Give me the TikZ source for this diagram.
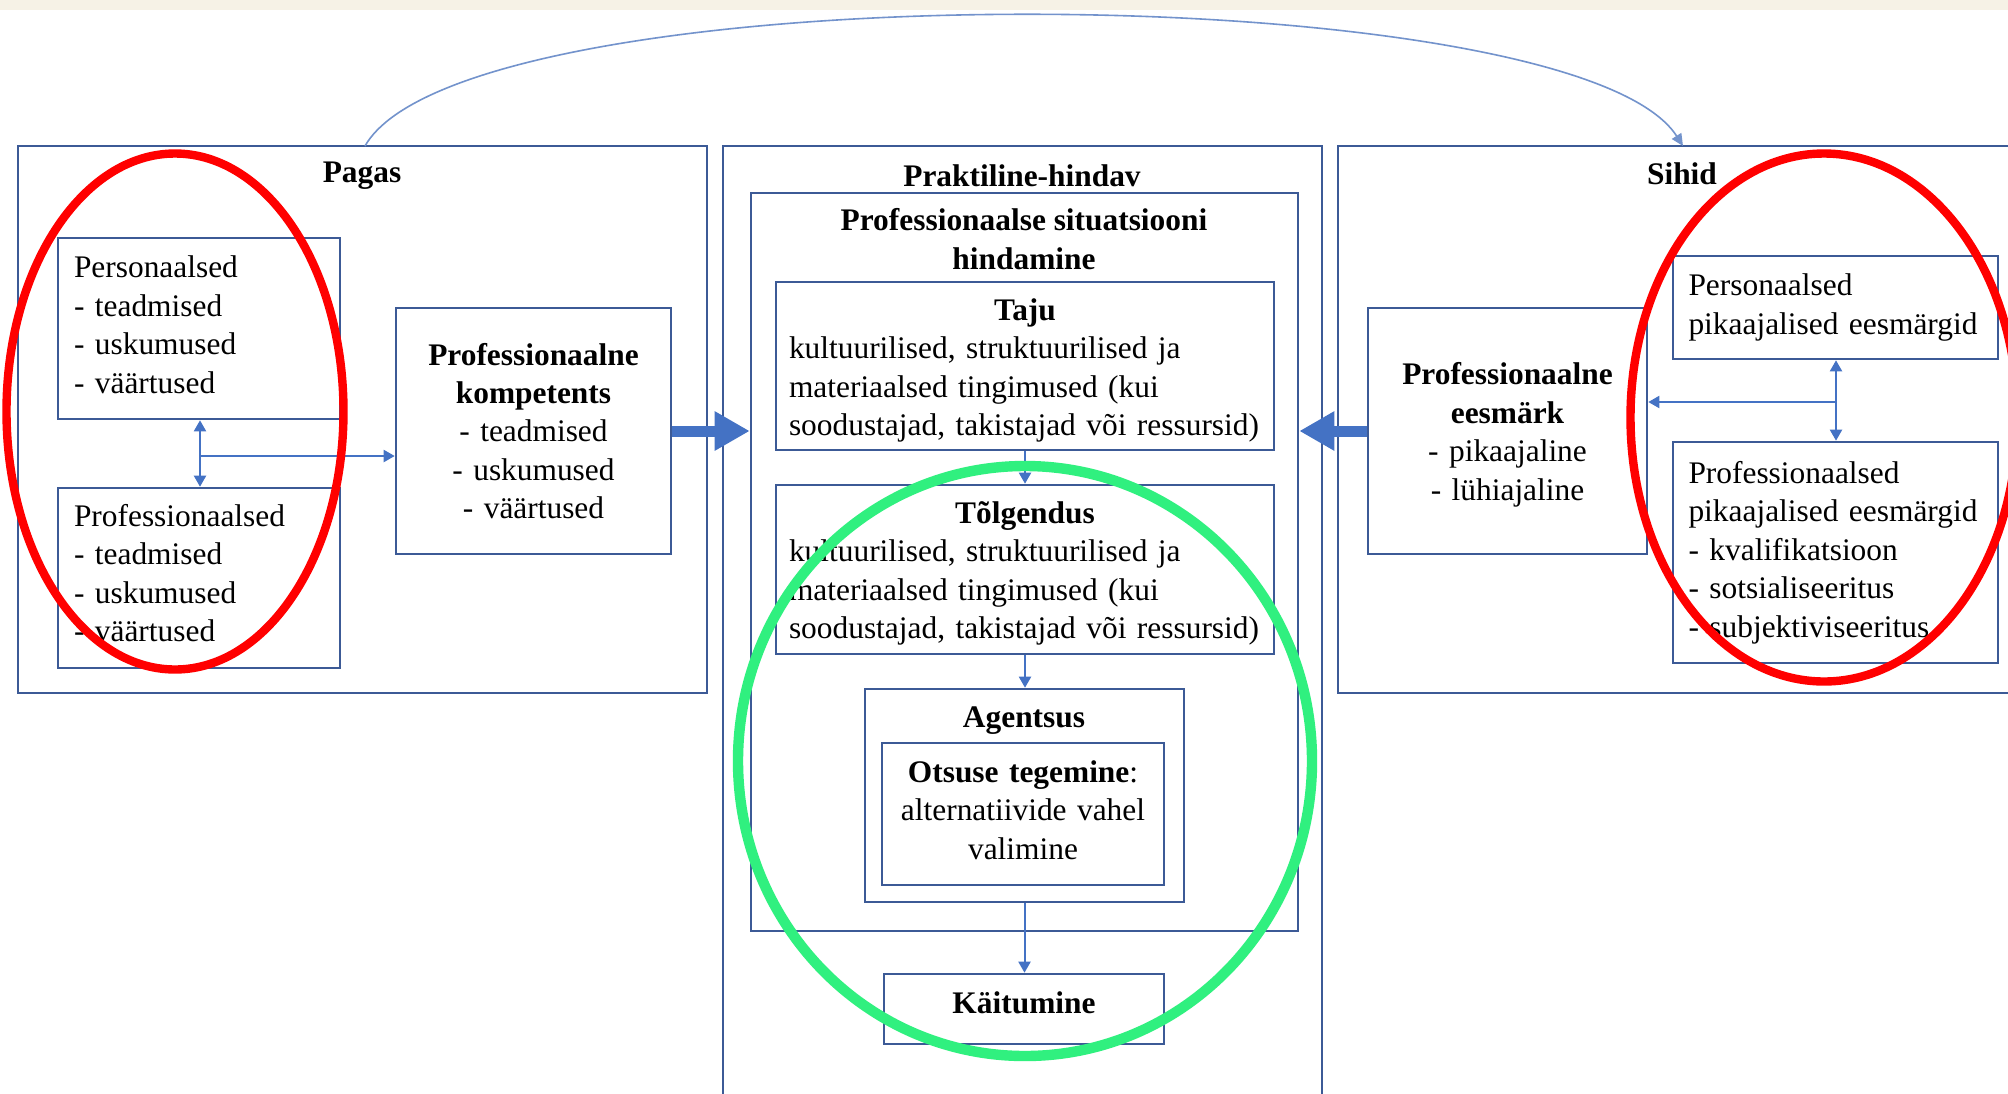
\documentclass[tikz,border=0pt]{standalone}
\usepackage{fontspec}
\setmainfont{Liberation Serif}
\usetikzlibrary{arrows.meta}
\definecolor{boxblue}{HTML}{3C5A96}
\definecolor{arrblue}{HTML}{4472C4}
\definecolor{arcblue}{HTML}{7393CC}
\definecolor{redc}{HTML}{FF0000}
\definecolor{greenc}{HTML}{30F07F}
\definecolor{stripc}{HTML}{F6F2E6}
\newcommand{\dn}[1]{\rule[-#1]{0pt}{0pt}}
\newcommand{\upr}[1]{\rule{0pt}{#1}}
\begin{document}
\begin{tikzpicture}[x=0.5pt,y=-0.5pt,
  box/.style={draw=boxblue, line width=1.3pt, inner sep=0pt, anchor=center, font=\fontsize{15.7}{19.2}\selectfont},
  lbox/.style={box, align=left, text width=#1},
  cbox/.style={box, align=center, text width=#1},
  ttl/.style={inner sep=0pt, font=\fontsize{15.7}{19.2}\selectfont\bfseries, align=center},
  conn/.style={draw=arrblue, line width=1pt, -{Triangle[width=6pt,length=5.5pt]}},
  conntwo/.style={draw=arrblue, line width=1pt, {Triangle[width=6pt,length=5.5pt]}-{Triangle[width=6pt,length=5.5pt]}},
  bigarr/.style={draw=arrblue, line width=5.5pt, -{Triangle[width=18.5pt,length=17.5pt]}},
  arcline/.style={draw=arcblue, line width=0.8pt, -{Triangle[width=5.5pt,length=6pt]}},
  redell/.style={draw=redc, line width=4.2pt},
  greenell/.style={draw=greenc, line width=5.2pt}]
\useasboundingbox (0,0) rectangle (2008,1093);
\clip (0,0) rectangle (2008,1093);
\fill[white] (0,0) rectangle (2008,1093);
\fill[stripc] (0,0) rectangle (2008,10);

% ---------- Pagas ----------
\node[box, minimum width=344.5pt, minimum height=273.5pt] (pagas) at (362.5,419.5) {};
\node[ttl] (pagasT) at (362,176) {Pagas};
\node[lbox=125pt, minimum width=141pt, minimum height=90.5pt] (pers) at (199,328.5) {Personaalsed\\- teadmised\\- uskumused\\- väärtused\dn{4pt}};
\node[lbox=125pt, minimum width=141pt, minimum height=90pt] (profL) at (199,578) {Professionaalsed\\- teadmised\\- uskumused\\- väärtused\dn{5pt}};
\node[cbox=130pt, minimum width=137.5pt, minimum height=123pt] (komp) at (533.5,431) {\textbf{Professionaalne}\\\textbf{kompetents}\\- teadmised\\- uskumused\\- väärtused};

% ---------- Praktiline-hindav ----------
\node[box, minimum width=299.5pt, minimum height=487pt] (prak) at (1022.5,633) {};
\node[ttl] (prakT) at (1022,176) {Praktiline-hindav};
\node[box, minimum width=273.5pt, minimum height=369pt] (inner) at (1024.5,562) {};
\node[ttl] (innerT) at (1024,239) {Professionaalse situatsiooni\\hindamine};
\node[box, text width=236pt, minimum width=249pt, minimum height=84pt] (taju) at (1025,366) {{\centering\upr{15.5pt}\textbf{Taju}\par}kultuurilised, struktuurilised ja\\materiaalsed tingimused (kui\\soodustajad, takistajad või ressursid)};
\node[box, text width=236pt, minimum width=249pt, minimum height=84.5pt] (tolg) at (1025,569.5) {{\centering\upr{15pt}\textbf{Tõlgendus}\par}kultuurilised, struktuurilised ja\\materiaalsed tingimused (kui\\soodustajad, takistajad või ressursid)};
\node[box, minimum width=159.5pt, minimum height=106.5pt] (agent) at (1024.5,795.5) {};
\node[ttl] (agentT) at (1024,721) {Agentsus};
\node[cbox=132pt, minimum width=141pt, minimum height=71pt] (otsus) at (1023,814) {\textbf{Otsuse tegemine}:\\alternatiivide vahel\\valimine\dn{4pt}};
\node[box, align=center, text depth=6pt, minimum width=140pt, minimum height=35pt] (kait) at (1024,1009) {\textbf{Käitumine}};

% ---------- Sihid ----------
\node[box, minimum width=351pt, minimum height=273.5pt] (sihid) at (1689,419.5) {};
\node[ttl] (sihidT) at (1682,174) {Sihid};
\node[cbox=130pt, minimum width=139.5pt, minimum height=123pt] (eesm) at (1507.5,431) {\upr{14.8pt}\textbf{Professionaalne}\\\textbf{eesmärk}\\- pikaajaline\\- lühiajaline};
\node[lbox=147pt, minimum width=162.5pt, minimum height=51.5pt] (ppers) at (1835.5,307.5) {Personaalsed\\pikaajalised eesmärgid};
\node[lbox=147pt, minimum width=162.5pt, minimum height=110.5pt] (pprof) at (1835.5,552.5) {Professionaalsed\\pikaajalised eesmärgid\\- kvalifikatsioon\\- sotsialiseeritus\\- subjektiviseeritus};

% ---------- connectors ----------
\coordinate (jL) at (200,456);
\draw[conntwo] (jL |- pers.south) -- (jL |- profL.north);
\draw[conn] (jL) -- (jL -| komp.west);
\coordinate (jR) at (1836,402);
\draw[conntwo] (jR |- ppers.south) -- (jR |- pprof.north);
\draw[conn] (jR) -- (jR -| eesm.east);

\draw[bigarr] (komp.east) -- (komp.east -| inner.west);
\draw[bigarr] (eesm.west) -- (eesm.west -| inner.east);

\draw[conn] (taju.south) -- (taju.south |- tolg.north);
\draw[conn] (tolg.south) -- (tolg.south |- agent.north);
\draw[conn] (agent.south) -- (agent.south |- kait.north);

\coordinate (arcS) at (365,146);
\coordinate (arcE) at (1683,146);
\draw[arcline] (arcS) .. controls +(100,-176) and +(-110,-172) .. (arcE);

% ---------- highlight ellipses ----------
\draw[redell] (175,411.5) ellipse [x radius=84.25pt, y radius=129pt];
\draw[redell] (1824,417.5) ellipse [x radius=96.75pt, y radius=132pt];
\draw[greenell] (1025,761) ellipse [x radius=143.5pt, y radius=147.5pt];
\end{tikzpicture}
\end{document}
